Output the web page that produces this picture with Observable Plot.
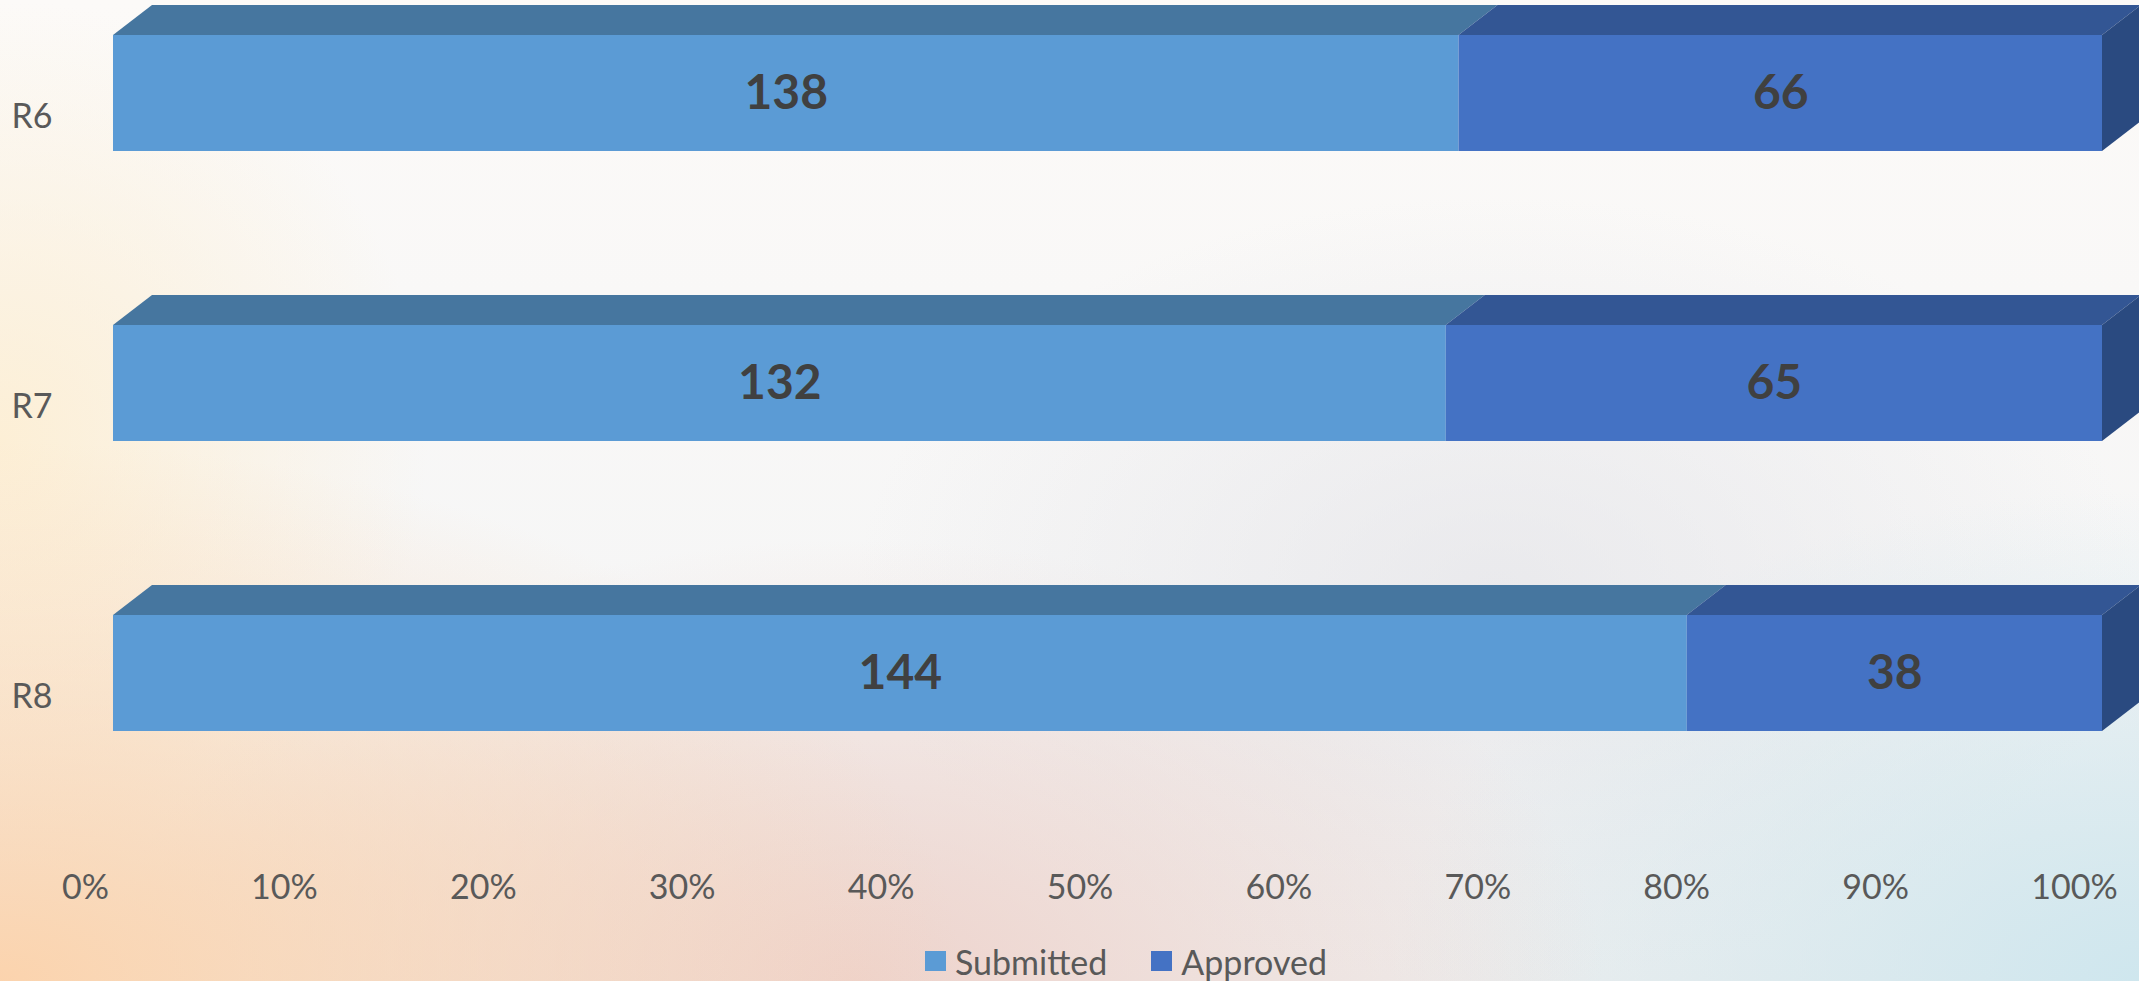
<!DOCTYPE html>
<html>
<head>
<meta charset="utf-8">
<script src="https://cdn.jsdelivr.net/npm/d3@7"></script>
<script src="https://cdn.jsdelivr.net/npm/@observablehq/plot@0.6"></script>
<style>
  html, body { margin: 0; padding: 0; width: 2139px; height: 981px; overflow: hidden; }
  body {
    position: relative;
    font-family: Lato, "Open Sans", sans-serif;
    background:
      radial-gradient(ellipse 45% 55% at 0% 100%, rgba(252,210,170,0.95) 0%, rgba(252,210,170,0) 100%),
      radial-gradient(ellipse 35% 45% at 40% 100%, rgba(238,208,200,0.9) 0%, rgba(238,208,200,0) 100%),
      radial-gradient(ellipse 35% 50% at 100% 100%, rgba(205,230,238,0.95) 0%, rgba(205,230,238,0) 100%),
      radial-gradient(ellipse 20% 45% at 0% 45%, rgba(253,238,210,0.9) 0%, rgba(253,238,210,0) 100%),
      radial-gradient(ellipse 30% 40% at 70% 60%, rgba(225,225,230,0.6) 0%, rgba(225,225,230,0) 100%),
      linear-gradient(180deg, #fcfaf8 0%, #f6f6f6 60%, #eeeeee 100%);
  }
  #chart { position: absolute; left: 0; top: 0; }
  #legend { position: absolute; left: 925px; top: 939px; height: 44px; display: flex; align-items: center; font-size: 34px; color: #595959; }
  #legend .sw { width: 21px; height: 20px; display: inline-block; margin-right: 9px; }
  #legend .item { display: flex; align-items: center; margin-right: 44px; }
</style>
</head>
<body>
<div id="chart"></div>
<div id="legend"></div>
<script>
const categories = ["R6", "R7", "R8"];
const series = ["Submitted", "Approved"];
const submitted = [138, 132, 144];
const approved = [66, 65, 38];
const tickValues = [0, 0.1, 0.2, 0.3, 0.4, 0.5, 0.6, 0.7, 0.8, 0.9, 1];

const frontColors = ["#5B9BD5", "#4472C4"];
const topColors = ["#46769F", "#335694"];
const sideColor = "#2A4A80";

const rows = [];
categories.forEach((c, i) => {
  rows.push({cat: c, series: "Submitted", value: submitted[i]});
  rows.push({cat: c, series: "Approved", value: approved[i]});
});

const DX = 39, DY = 30;

function faces(index, scales) {
  const g = d3.create("svg:g");
  const x = scales.x, y = scales.y;
  const bw = y.bandwidth();
  categories.forEach((c, i) => {
    const vals = [submitted[i], approved[i]];
    const total = vals[0] + vals[1];
    let acc = 0;
    const yTop = y(c);
    vals.forEach((v, k) => {
      const X0 = x(acc / total), X1 = x((acc + v) / total);
      acc += v;
      g.append("polygon")
        .attr("points", [[X0, yTop], [X1, yTop], [X1 + DX, yTop - DY], [X0 + DX, yTop - DY]].map(p => p.join(",")).join(" "))
        .attr("fill", topColors[k]);
      if (k === vals.length - 1) {
        g.append("polygon")
          .attr("points", [[X1, yTop], [X1 + DX, yTop - DY], [X1 + DX, yTop + bw - DY], [X1, yTop + bw]].map(p => p.join(",")).join(" "))
          .attr("fill", sideColor);
      }
    });
  });
  return g.node();
}

const plot = Plot.plot({
  width: 2139,
  height: 935,
  marginLeft: 0,
  marginRight: 0,
  marginTop: 0,
  marginBottom: 67,
  style: {background: "transparent", fontFamily: "Lato, 'Open Sans', sans-serif", color: "#595959", overflow: "visible"},
  x: {domain: [0, 1], range: [113, 2102], label: null},
  y: {domain: categories, range: [0, 766], paddingInner: 0.601, paddingOuter: 0.117, axis: null, label: null},
  color: {domain: series, range: frontColors},
  marks: [
    faces,
    Plot.barX(rows, Plot.stackX({offset: "normalize", x: "value", y: "cat", fill: "series"})),
    Plot.text(rows, Plot.stackX({offset: "normalize", x: "value", y: "cat", text: d => String(d.value), fill: "#404040", fontSize: 48, fontWeight: "bold"})),
    Plot.text(categories, {y: d => d, frameAnchor: "left", text: d => d, dx: 11, dy: 24, textAnchor: "start", fontSize: 34, fill: "#595959"}),
    Plot.axisX({ticks: tickValues, tickFormat: d3.format(".0%"), tickSize: 0, tickPadding: 6, dx: -28, fontSize: 34, fill: "#595959", label: null})
  ]
});
document.getElementById("chart").appendChild(plot);

const legend = document.getElementById("legend");
series.forEach((s, i) => {
  const item = document.createElement("span");
  item.className = "item";
  const sw = document.createElement("span");
  sw.className = "sw";
  sw.style.background = frontColors[i];
  item.appendChild(sw);
  item.appendChild(document.createTextNode(s));
  legend.appendChild(item);
});
</script>
</body>
</html>
